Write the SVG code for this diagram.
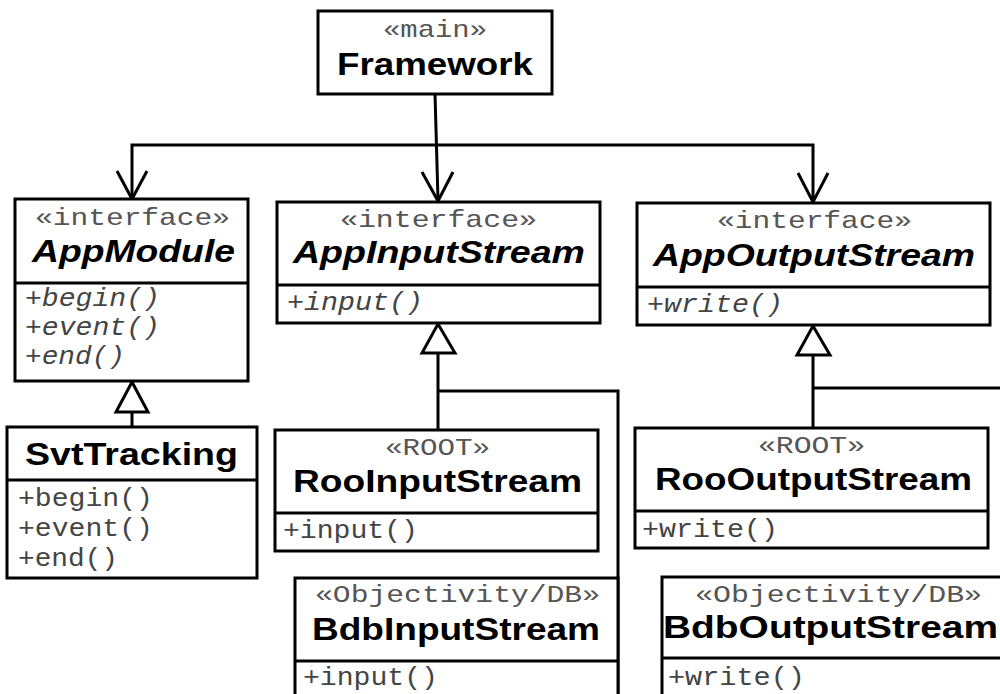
<svg xmlns="http://www.w3.org/2000/svg" width="1000" height="694" viewBox="0 0 1000 694">
<style>
.box{fill:#fff;stroke:#000;stroke-width:3}
.div{stroke:#000;stroke-width:3}
.st{font-family:"Liberation Mono",monospace;font-size:24px;fill:#555}
.nm{font-family:"Liberation Sans",Arial,sans-serif;font-size:32px;font-weight:bold;fill:#000}
.it{font-style:italic}
.op{font-family:"Liberation Mono",monospace;font-size:25px;fill:#444}
.ln{fill:none;stroke:#000;stroke-width:3}
.tri{fill:#fff;stroke:#000;stroke-width:3;stroke-linejoin:miter}
</style>
<rect width="1000" height="694" fill="#fff"/>
<g id="connectors">
<path class="ln" d="M435,94 L438,200"/>
<path class="ln" d="M132,199 V145 H813 V202"/>
<path class="ln" d="M117,171 L132,199 L147,171"/>
<path class="ln" d="M422,172 L438,201 L453,172"/>
<path class="ln" d="M798,173 L813,202 L828,173"/>
<path class="ln" d="M132,412 V427"/>
<path class="tri" d="M132,382 L148,412 L116,412 Z"/>
<path class="ln" d="M438,353 V430"/>
<path class="ln" d="M438,391 H618 V694"/>
<path class="tri" d="M438,324 L455,353 L422,353 Z"/>
<path class="ln" d="M813,355 V428"/>
<path class="ln" d="M813,388 H1000"/>
<path class="tri" d="M813,326 L830,355 L797,355 Z"/>
</g>
<g id="Framework">
<rect class="box" x="318" y="11" width="234" height="83"/>
<text class="st" x="383" y="37" textLength="104" lengthAdjust="spacingAndGlyphs">«main»</text>
<text class="nm" x="337" y="75" textLength="196" lengthAdjust="spacingAndGlyphs">Framework</text>
</g>
<g id="AppModule">
<rect class="box" x="15" y="199" width="233" height="182"/>
<line class="div" x1="15" y1="283" x2="248" y2="283"/>
<text class="st" x="35" y="225" textLength="195" lengthAdjust="spacingAndGlyphs">«interface»</text>
<text class="nm it" x="32" y="262" textLength="203" lengthAdjust="spacingAndGlyphs">AppModule</text>
<text class="op it" x="25" y="306" textLength="135" lengthAdjust="spacingAndGlyphs">+begin()</text>
<text class="op it" x="25" y="335" textLength="135" lengthAdjust="spacingAndGlyphs">+event()</text>
<text class="op it" x="25" y="364" textLength="100" lengthAdjust="spacingAndGlyphs">+end()</text>
</g>
<g id="AppInputStream">
<rect class="box" x="277" y="202" width="323" height="121"/>
<line class="div" x1="277" y1="285" x2="600" y2="285"/>
<text class="st" x="340" y="227" textLength="197" lengthAdjust="spacingAndGlyphs">«interface»</text>
<text class="nm it" x="293" y="263" textLength="292" lengthAdjust="spacingAndGlyphs">AppInputStream</text>
<text class="op it" x="287" y="310" textLength="136" lengthAdjust="spacingAndGlyphs">+input()</text>
</g>
<g id="AppOutputStream">
<rect class="box" x="637" y="203" width="353" height="122"/>
<line class="div" x1="637" y1="287" x2="990" y2="287"/>
<text class="st" x="717" y="228" textLength="195" lengthAdjust="spacingAndGlyphs">«interface»</text>
<text class="nm it" x="653" y="266" textLength="322" lengthAdjust="spacingAndGlyphs">AppOutputStream</text>
<text class="op it" x="647" y="312" textLength="136" lengthAdjust="spacingAndGlyphs">+write()</text>
</g>
<g id="SvtTracking">
<rect class="box" x="7" y="427" width="250" height="151"/>
<line class="div" x1="7" y1="480" x2="257" y2="480"/>
<text class="nm" x="25" y="465" textLength="213" lengthAdjust="spacingAndGlyphs">SvtTracking</text>
<text class="op" x="18" y="506" textLength="135" lengthAdjust="spacingAndGlyphs">+begin()</text>
<text class="op" x="18" y="536" textLength="135" lengthAdjust="spacingAndGlyphs">+event()</text>
<text class="op" x="18" y="566" textLength="100" lengthAdjust="spacingAndGlyphs">+end()</text>
</g>
<g id="RooInputStream">
<rect class="box" x="275" y="430" width="323" height="121"/>
<line class="div" x1="275" y1="513" x2="598" y2="513"/>
<text class="st" x="385" y="455" textLength="105" lengthAdjust="spacingAndGlyphs">«ROOT»</text>
<text class="nm" x="293" y="492" textLength="289" lengthAdjust="spacingAndGlyphs">RooInputStream</text>
<text class="op" x="283" y="538" textLength="135" lengthAdjust="spacingAndGlyphs">+input()</text>
</g>
<g id="RooOutputStream">
<rect class="box" x="635" y="428" width="353" height="120"/>
<line class="div" x1="635" y1="511" x2="988" y2="511"/>
<text class="st" x="758" y="453" textLength="107" lengthAdjust="spacingAndGlyphs">«ROOT»</text>
<text class="nm" x="655" y="490" textLength="317" lengthAdjust="spacingAndGlyphs">RooOutputStream</text>
<text class="op" x="642" y="537" textLength="136" lengthAdjust="spacingAndGlyphs">+write()</text>
</g>
<g id="BdbInputStream">
<rect class="box" x="295" y="578" width="323" height="130"/>
<line class="div" x1="295" y1="661" x2="618" y2="661"/>
<text class="st" x="315" y="602" textLength="285" lengthAdjust="spacingAndGlyphs">«Objectivity/DB»</text>
<text class="nm" x="312" y="640" textLength="288" lengthAdjust="spacingAndGlyphs">BdbInputStream</text>
<text class="op" x="303" y="685" textLength="135" lengthAdjust="spacingAndGlyphs">+input()</text>
</g>
<g id="BdbOutputStream">
<rect class="box" x="662" y="577" width="360" height="130"/>
<line class="div" x1="662" y1="658" x2="1022" y2="658"/>
<text class="st" x="695" y="602" textLength="287" lengthAdjust="spacingAndGlyphs">«Objectivity/DB»</text>
<text class="nm" x="663" y="638" textLength="335" lengthAdjust="spacingAndGlyphs">BdbOutputStream</text>
<text class="op" x="668" y="685" textLength="137" lengthAdjust="spacingAndGlyphs">+write()</text>
</g>
</svg>
